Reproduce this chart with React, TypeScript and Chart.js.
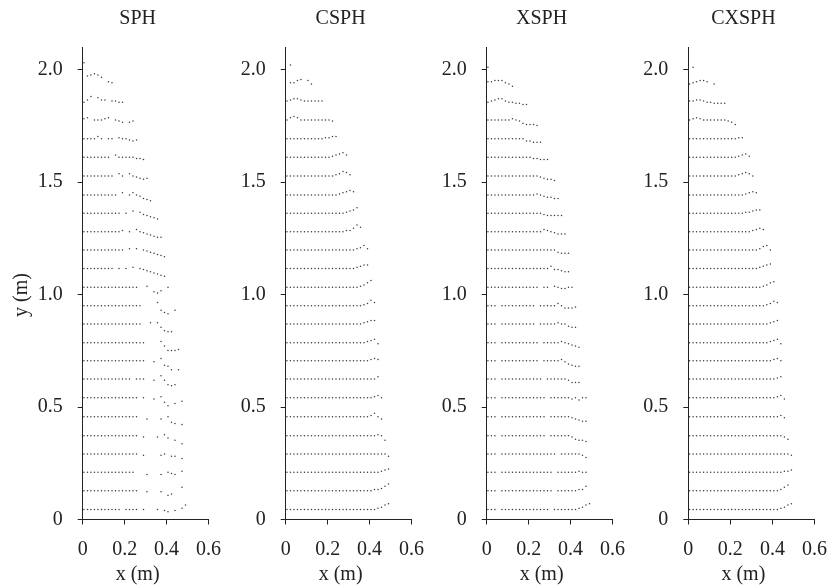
import React, { useEffect, useRef } from "react";
import { Chart, registerables } from "chart.js";

Chart.register(...registerables);

// ---------- data ----------
const panelTitles = ["SPH", "CSPH", "XSPH", "CXSPH"];
const xTickValues = [0, 0.2, 0.4, 0.6];
const yTickValues = [0, 0.5, 1.0, 1.5, 2.0];
const xLabel = "x (m)";
const yLabel = "y (m)";

// vertical position (m) of each particle row, bottom to top (last = top particle)
const rowY = [
  0.045, 0.128, 0.21, 0.291, 0.372, 0.457, 0.541, 0.624, 0.706, 0.786, 0.869, 0.95,
  1.032, 1.116, 1.198, 1.279, 1.361, 1.442, 1.527, 1.61, 1.692, 1.776, 1.86, 1.946, 2.02,
];

// lattice of particle slots along a row
const firstDotX = 0.006;
const dotPitch = 0.0167;
const offsetUnit = 0.005;

// Row codes (run-length): "n." = n particles on the row line, " " = empty slot,
// A..I = particle raised 1..9 units, a..i = particle lowered 1..9 units.
const sphRows = [
  "11. 4. .3 . ab a AD",
  "16.2 a3 a dc2 C",
  "15.3 b3 b .ab A",
  "16. a4 a. bb d",
  "16. a3 a Ab d g",
  "16.2 b3 b .ef g",
  "16. .2 a Adg e c",
  "14. 3.2 a Caefe",
  "18.2 a Bdeh h",
  "18.4 Acgggf",
  "17.2 A Acfgg",
  "17.4 Cdfg d",
  "16.2 A dec .",
  "9. . . A .abcdefg",
  "12. A A .abcdef",
  "11.A . B.abcdee",
  "11. . B Aabcde",
  "10. B .B.acde",
  "9. B. B.abcb",
  "8. B5.aab",
  "4.B. 2. A2.aba",
  "AB 3.AB .ab ba",
  "aAD CAA 2.aa",
  " EFGFD .a",
  "B",
];

const csphRows = [
  "26.ABDE",
  "25.AABDF",
  "27.ABC",
  "29.b",
  "26.A.d",
  "24.AC.b",
  "25.AB.",
  "26.B",
  "24.ABA",
  "23.ABCa",
  "22.ABCC",
  "22.ABEC",
  "21.ABDF",
  "20.ABCC",
  "20.ABDA",
  "17.AACFD",
  "17.ABCE",
  "15.ABCDC",
  "14.ABDCA",
  "13.ABCDB",
  "11.AABB",
  ".BCB9.a",
  ".ABBA6.",
  " aaAB Ab",
  " .",
];

const xsphRows = [
  "3. 14. 7.ABDE",
  "3. 15. 6.AAD",
  "3. 15. 6.A..",
  "3. 16. 6.ac",
  "3. 13. 6.acdde",
  "3. 13. 6.abcdd",
  "3. 13. 6.a.b..",
  "3. 12. 6.accc",
  "3. 11. 5.Aacdee",
  "3. 11. 5.A.abcd",
  "3. 10. 5.A..bcc",
  "3. 10. 5.B.bbba",
  "15. 2. A.aa..",
  "18.Baabcc",
  "20.bccc",
  "16.BA.abbb",
  "16.abbbbb",
  "14.A.abbcc",
  "15.abccd",
  "13.aabbb",
  "11.bbccc",
  "7.A.acddde",
  "a.ABB.aabbcc",
  "2.AAAabd",
  "b",
];

const cxsphRows = [
  "26.ABDE",
  "26.ACE",
  "27.AAB",
  "29.a",
  "27.ac",
  "26.Aa",
  "25.ABa",
  "25.AB",
  "24.AB.",
  "23.ABCa",
  "23.ABC",
  "22.ABDC",
  "21.ABDE",
  "20.ABCD",
  "20.ACD.",
  "18.ABCB",
  "16.AABCC",
  "16.ABCB",
  "14.ABCB.",
  "14.ABCA",
  "14.AA",
  ".ABA7.abd",
  "2.AA.aabbbb",
  "ba.AA. b",
  " b",
];

const panelRows = [sphRows, csphRows, xsphRows, cxsphRows];

// ---------- decoding ----------
function decodeRow(code: string, y: number) {
  const pts: { x: number; y: number }[] = [];
  let slot = 0;
  let i = 0;
  while (i < code.length) {
    let n = 0;
    let hasN = false;
    while (i < code.length && code[i] >= "0" && code[i] <= "9") {
      n = n * 10 + Number(code[i]);
      i++;
      hasN = true;
    }
    const c = code[i];
    i++;
    const reps = hasN ? n : 1;
    for (let k = 0; k < reps; k++) {
      if (c !== " ") {
        let off = 0;
        if (c >= "A" && c <= "I") off = c.charCodeAt(0) - 64;
        else if (c >= "a" && c <= "i") off = -(c.charCodeAt(0) - 96);
        pts.push({ x: firstDotX + slot * dotPitch, y: y + off * offsetUnit });
      }
      slot++;
    }
  }
  return pts;
}

function panelPoints(rows: string[]) {
  const pts: { x: number; y: number }[] = [];
  rows.forEach((code, r) => {
    decodeRow(code, rowY[r]).forEach((p) => pts.push(p));
  });
  return pts;
}

// ---------- layout ----------
const PAGE_W = 831;
const PAGE_H = 587;
const axisLeft = [82.7, 285.7, 486.7, 688.3];
const plotWidth = 134.7;
const plotTop = 47;
const plotBottom = 519.5;
const CANVAS_LEFT_SPAN = 80;
const CANVAS_W = 232;
const Y_AXIS_W = 50;
const FONT = "'Liberation Serif', 'Times New Roman', serif";
const INK = "#222";

function fmt(v: number) {
  return v === 0 ? "0" : v.toFixed(1);
}

function Panel({ index }: { index: number }) {
  const ref = useRef<HTMLCanvasElement | null>(null);
  const canvasLeft = Math.floor(axisLeft[index]) - CANVAS_LEFT_SPAN;
  useEffect(() => {
    if (!ref.current) return;
    const padLeft = axisLeft[index] - canvasLeft - Y_AXIS_W;
    const padRight = CANVAS_W - (axisLeft[index] - canvasLeft) - plotWidth;
    const title = panelTitles[index];
    const textPlugin = {
      id: "panelText" + index,
      afterDraw(chart: any) {
        const { ctx, chartArea } = chart;
        const cx = (chartArea.left + chartArea.right) / 2 - 8;
        ctx.save();
        ctx.fillStyle = INK;
        ctx.font = `20px ${FONT}`;
        ctx.textAlign = "center";
        ctx.textBaseline = "middle";
        ctx.fillText(title, cx, 18.5);
        ctx.fillText(xLabel, cx, 575);
        if (index === 0) {
          ctx.translate(22 - canvasLeft, 295);
          ctx.rotate(-Math.PI / 2);
          ctx.fillText(yLabel, 0, 0);
        }
        ctx.restore();
      },
    };
    const chart = new Chart(ref.current, {
      type: "scatter",
      data: {
        datasets: [
          {
            data: panelPoints(panelRows[index]),
            pointRadius: 0.75,
            pointHoverRadius: 0,
            pointBackgroundColor: "#3a3a3a",
            pointBorderWidth: 0,
            showLine: false,
          },
        ],
      },
      options: {
        animation: false,
        responsive: false,
        events: [],
        layout: {
          autoPadding: false,
          padding: { left: padLeft, right: padRight, top: plotTop, bottom: 0 },
        },
        plugins: { legend: { display: false }, tooltip: { enabled: false } },
        scales: {
          x: {
            type: "linear",
            min: 0,
            max: 0.6,
            afterFit: (s: any) => {
              s.height = PAGE_H - plotBottom;
            },
            afterBuildTicks: (s: any) => {
              s.ticks = xTickValues.map((v) => ({ value: v }));
            },
            ticks: {
              callback: (v: any) => fmt(Number(v)),
              font: { family: FONT, size: 20 },
              color: INK,
              padding: 13,
              maxRotation: 0,
              autoSkip: false,
            },
            grid: { drawOnChartArea: false, drawTicks: true, tickLength: 5, color: INK, lineWidth: 1 },
            border: { display: true, color: INK, width: 1 },
          },
          y: {
            type: "linear",
            min: 0,
            max: 2.1,
            afterFit: (s: any) => {
              s.width = Y_AXIS_W;
            },
            afterBuildTicks: (s: any) => {
              s.ticks = yTickValues.map((v) => ({ value: v }));
            },
            ticks: {
              callback: (v: any) => fmt(Number(v)),
              font: { family: FONT, size: 20 },
              color: INK,
              padding: 15,
              autoSkip: false,
            },
            grid: { drawOnChartArea: false, drawTicks: true, tickLength: 5, color: INK, lineWidth: 1 },
            border: { display: true, color: INK, width: 1 },
          },
        },
      },
      plugins: [textPlugin],
    } as any);
    return () => chart.destroy();
  }, [index, canvasLeft]);
  return (
    <canvas
      ref={ref}
      width={CANVAS_W}
      height={PAGE_H}
      style={{ position: "absolute", left: canvasLeft, top: 0, width: CANVAS_W, height: PAGE_H, display: "block" }}
    />
  );
}

export default function App() {
  return (
    <div
      style={{
        position: "absolute",
        left: 0,
        top: 0,
        width: PAGE_W,
        height: PAGE_H,
        overflow: "hidden",
        background: "#fff",
      }}
    >
      {panelTitles.map((t, i) => (
        <Panel key={t} index={i} />
      ))}
    </div>
  );
}
